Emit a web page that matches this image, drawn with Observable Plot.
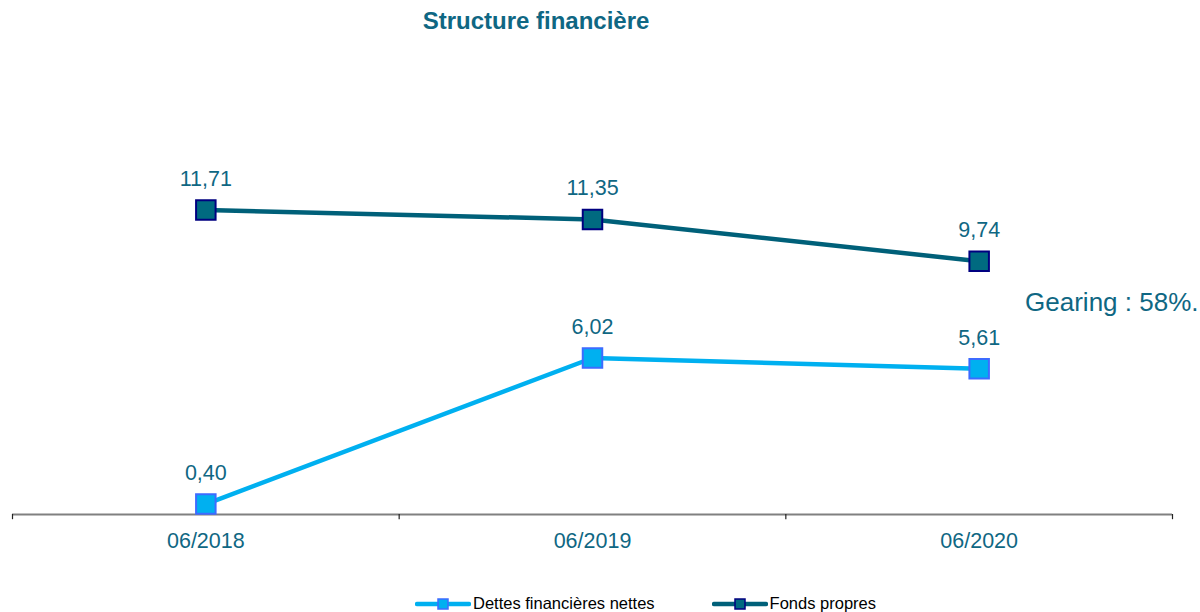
<!DOCTYPE html>
<html>
<head>
<meta charset="utf-8">
<script src="https://cdn.jsdelivr.net/npm/d3@7"></script>
<script src="https://cdn.jsdelivr.net/npm/@observablehq/plot@0.6"></script>
<style>
  html, body { margin: 0; padding: 0; background: #fff; width: 1200px; height: 612px; overflow: hidden; font-family: "Liberation Sans", Arial, sans-serif; }
  #wrap { position: relative; width: 1200px; height: 612px; }
  #title { position: absolute; top: 7px; left: 0; width: 1072px; text-align: center; font-weight: bold; font-size: 24px; color: #0f6783; line-height: 28px; }
  #chart { position: absolute; top: 40px; left: 0; }
  #legend { position: absolute; top: 594px; left: 415px; display: flex; align-items: center; font-size: 16.5px; color: #000; line-height: 19px; }
  .item { display: flex; align-items: center; }
  .item svg { margin-right: 2px; }
</style>
</head>
<body>
<div id="wrap">
  <div id="title"></div>
  <div id="chart"></div>
  <div id="legend"></div>
</div>
<script>
const title = "Structure financière";
const categories = ["06/2018", "06/2019", "06/2020"];
const seriesNames = ["Dettes financières nettes", "Fonds propres"];
const dettes = [0.40, 6.02, 5.61];
const fonds = [11.71, 11.35, 9.74];
const annotation = "Gearing : 58%.";

const lineColors = ["#00b0f0", "#006079"];
const markerFill = ["#00b0f0", "#006a80"];
const markerStroke = ["#3d6bff", "#000080"];
const textColor = "#0f6783";
const font = "'Liberation Sans', Arial, sans-serif";

document.getElementById("title").textContent = title;

const rows = [];
[dettes, fonds].forEach((vals, s) => {
  vals.forEach((v, i) => rows.push({series: seriesNames[s], s, i, cat: categories[i], value: v}));
});
const bounds = d3.range(categories.length + 1).map(k => k - 0.5);
const fmt = v => v.toFixed(2).replace(".", ",");

const chart = Plot.plot({
  width: 1200,
  height: 550,
  marginTop: 58,
  marginBottom: 76,
  marginLeft: 12,
  marginRight: 28,
  x: {domain: [-0.5, categories.length - 0.5], axis: null},
  y: {domain: [0, 16], axis: null},
  style: {fontFamily: font, background: "white", overflow: "visible"},
  marks: [
    Plot.ruleY([0], {stroke: "#808080", strokeWidth: 2}),
    Plot.ruleX(bounds, {x: d => d, y1: 0, y2: -0.2, stroke: "#222", strokeWidth: 1.2}),
    Plot.text(categories, {x: (d, i) => i, y: 0, text: d => d, dy: 27, fontSize: 21.5, fill: textColor}),
    ...[0, 1].map(s => Plot.line(rows.filter(r => r.s === s), {x: "i", y: "value", stroke: lineColors[s], strokeWidth: 4.5})),
    ...[0, 1].map(s => Plot.dot(rows.filter(r => r.s === s), {x: "i", y: "value", symbol: "square", r: 11, fill: markerFill[s], stroke: markerStroke[s], strokeWidth: 2})),
    Plot.text(rows, {x: "i", y: "value", text: d => fmt(d.value), dy: -31, fontSize: 21.5, fill: textColor}),
    Plot.text([annotation], {frameAnchor: "top-right", text: d => d, dx: 26, dy: 194, textAnchor: "end", fontSize: 26, fill: textColor})
  ]
});
document.getElementById("chart").appendChild(chart);

const legend = document.getElementById("legend");
seriesNames.forEach((name, s) => {
  const item = document.createElement("div");
  item.className = "item";
  if (s > 0) item.style.marginLeft = "57px";
  item.innerHTML = `<svg width="56" height="14"><line x1="2" y1="7" x2="54" y2="7" stroke="${lineColors[s]}" stroke-width="4.5" stroke-linecap="round"/><rect x="23" y="2" width="10" height="10" fill="${markerFill[s]}" stroke="${markerStroke[s]}" stroke-width="1.5"/></svg><span></span>`;
  item.querySelector("span").textContent = name;
  legend.appendChild(item);
});
</script>
</body>
</html>
